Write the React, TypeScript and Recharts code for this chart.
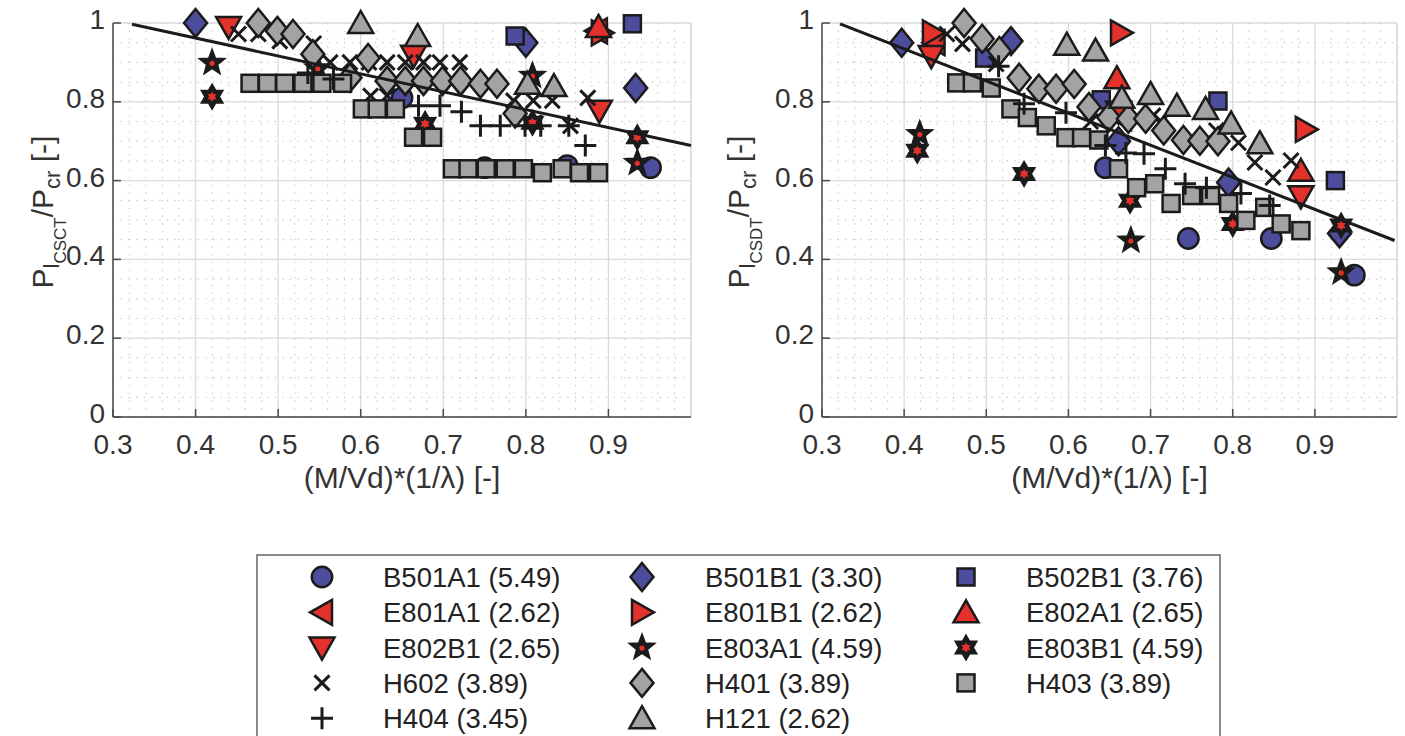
import React from "react";
import { ScatterChart, Scatter, XAxis, YAxis, CartesianGrid, ReferenceLine } from "recharts";

type XY = [number, number];

// axis ticks
const xTicks = [0.3, 0.4, 0.5, 0.6, 0.7, 0.8, 0.9];
const yTicks = [0, 0.2, 0.4, 0.6, 0.8, 1];
const xMinor = Array.from({ length: 35 }, (_, i) => +(0.32 + i * 0.02).toFixed(2)).filter((v) => Math.round(v * 100) % 10 !== 0);
const yMinor = Array.from({ length: 19 }, (_, i) => +(0.05 + i * 0.05).toFixed(2)).filter((v) => Math.round(v * 100) % 20 !== 0);

// series names + legend labels
const seriesKeys = ["B501A1", "B501B1", "B502B1", "E801A1", "E801B1", "E802A1", "E802B1", "E803A1", "E803B1", "H602", "H401", "H403", "H404", "H121"];
const legendLabels = [
  "B501A1 (5.49)", "B501B1 (3.30)", "B502B1 (3.76)",
  "E801A1 (2.62)", "E801B1 (2.62)", "E802A1 (2.65)",
  "E802B1 (2.65)", "E803A1 (4.59)", "E803B1 (4.59)",
  "H602 (3.89)", "H401 (3.89)", "H403 (3.89)",
  "H404 (3.45)", "H121 (2.62)",
];

// ---- left panel: P_l,CSCT / P_cr
const csctB501A1: XY[] = [[0.65, 0.81], [0.75, 0.633], [0.85, 0.638], [0.951, 0.633]];
const csctB501B1: XY[] = [[0.4, 1.0], [0.8, 0.95], [0.933, 0.835]];
const csctB502B1: XY[] = [[0.787, 0.967], [0.929, 0.998]];
const csctE801A1: XY[] = [[0.886, 0.98]];
const csctE801B1: XY[] = [[0.892, 0.975]];
const csctE802A1: XY[] = [[0.888, 0.99]];
const csctE802B1: XY[] = [[0.44, 0.99], [0.664, 0.917], [0.889, 0.777]];
const csctE803A1: XY[] = [[0.42, 0.899], [0.548, 0.885], [0.808, 0.866], [0.935, 0.645]];
const csctE803B1: XY[] = [[0.42, 0.813], [0.678, 0.744], [0.808, 0.747], [0.935, 0.71]];
const csctH602: XY[] = [
  [0.452, 0.972], [0.476, 0.972], [0.502, 0.954], [0.543, 0.948], [0.563, 0.9], [0.587, 0.9], [0.61, 0.9],
  [0.632, 0.9], [0.654, 0.9], [0.676, 0.9], [0.696, 0.9], [0.72, 0.9], [0.612, 0.815], [0.632, 0.815],
  [0.785, 0.803], [0.809, 0.803], [0.832, 0.803], [0.854, 0.739], [0.875, 0.81],
];
const csctH401: XY[] = [
  [0.476, 1.0], [0.499, 0.98], [0.518, 0.972], [0.542, 0.921], [0.587, 0.861], [0.609, 0.911], [0.632, 0.853],
  [0.654, 0.853], [0.676, 0.853], [0.699, 0.853], [0.721, 0.853], [0.745, 0.846], [0.765, 0.846], [0.787, 0.77],
];
const csctH403: XY[] = [
  [0.466, 0.847], [0.487, 0.847], [0.508, 0.847], [0.53, 0.847], [0.553, 0.847], [0.578, 0.847], [0.602, 0.782],
  [0.62, 0.782], [0.642, 0.782], [0.664, 0.71], [0.687, 0.71], [0.711, 0.63], [0.73, 0.63], [0.752, 0.63],
  [0.775, 0.63], [0.797, 0.63], [0.82, 0.62], [0.844, 0.63], [0.865, 0.62], [0.888, 0.62],
];
const csctH404: XY[] = [
  [0.536, 0.873], [0.567, 0.858], [0.67, 0.79], [0.696, 0.79], [0.722, 0.775], [0.745, 0.739], [0.769, 0.739],
  [0.799, 0.739], [0.818, 0.739], [0.852, 0.739], [0.872, 0.689],
];
const csctH121: XY[] = [[0.6, 1.0], [0.669, 0.967], [0.802, 0.846], [0.834, 0.84]];
const csctFit: XY[] = [[0.323, 0.997], [1.0, 0.689]];

// ---- right panel: P_l,CSDT / P_cr
const csdtB501A1: XY[] = [[0.645, 0.633], [0.746, 0.453], [0.847, 0.453], [0.948, 0.36]];
const csdtB501B1: XY[] = [[0.397, 0.95], [0.53, 0.954], [0.661, 0.7], [0.795, 0.595], [0.93, 0.466]];
const csdtB502B1: XY[] = [[0.498, 0.911], [0.64, 0.805], [0.782, 0.802], [0.925, 0.6]];
const csdtE801A1: XY[] = [[0.437, 0.95], [0.664, 0.76]];
const csdtE801B1: XY[] = [[0.435, 0.975], [0.664, 0.975], [0.889, 0.73]];
const csdtE802A1: XY[] = [[0.659, 0.86], [0.883, 0.625]];
const csdtE802B1: XY[] = [[0.433, 0.916], [0.661, 0.775], [0.883, 0.56]];
const csdtE803A1: XY[] = [[0.419, 0.718], [0.676, 0.448], [0.932, 0.367]];
const csdtE803B1: XY[] = [[0.416, 0.676], [0.546, 0.617], [0.675, 0.549], [0.8, 0.49], [0.932, 0.486]];
const csdtH602: XY[] = [
  [0.452, 0.972], [0.471, 0.947], [0.512, 0.896], [0.627, 0.75], [0.703, 0.765], [0.713, 0.75], [0.78, 0.727],
  [0.807, 0.696], [0.827, 0.646], [0.849, 0.608], [0.871, 0.651],
];
const csdtH401: XY[] = [
  [0.473, 1.0], [0.495, 0.96], [0.516, 0.929], [0.54, 0.861], [0.564, 0.833], [0.585, 0.833], [0.607, 0.845],
  [0.625, 0.787], [0.649, 0.76], [0.673, 0.757], [0.694, 0.757], [0.716, 0.727], [0.74, 0.703], [0.76, 0.701],
  [0.782, 0.7],
];
const csdtH403: XY[] = [
  [0.464, 0.848], [0.483, 0.848], [0.506, 0.835], [0.53, 0.782], [0.55, 0.76], [0.573, 0.739], [0.597, 0.709],
  [0.616, 0.709], [0.637, 0.703], [0.661, 0.63], [0.683, 0.582], [0.705, 0.592], [0.725, 0.542], [0.75, 0.562],
  [0.773, 0.562], [0.795, 0.542], [0.816, 0.499], [0.839, 0.532], [0.859, 0.49], [0.883, 0.473],
];
const csdtH404: XY[] = [
  [0.515, 0.89], [0.546, 0.795], [0.597, 0.772], [0.645, 0.689], [0.67, 0.67], [0.692, 0.668], [0.718, 0.63],
  [0.742, 0.592], [0.768, 0.582], [0.81, 0.567], [0.845, 0.537],
];
const csdtH121: XY[] = [[0.598, 0.945], [0.633, 0.93], [0.665, 0.81], [0.7, 0.82], [0.732, 0.79], [0.767, 0.782], [0.798, 0.745], [0.833, 0.695]];
const csdtFit: XY[] = [[0.322, 0.998], [0.997, 0.448]];

const csctSeries = [csctB501A1, csctB501B1, csctB502B1, csctE801A1, csctE801B1, csctE802A1, csctE802B1, csctE803A1, csctE803B1, csctH602, csctH401, csctH403, csctH404, csctH121];
const csdtSeries = [csdtB501A1, csdtB501B1, csdtB502B1, csdtE801A1, csdtE801B1, csdtE802A1, csdtE802B1, csdtE803A1, csdtE803B1, csdtH602, csdtH401, csdtH403, csdtH404, csdtH121];

const INK = "#1b1b1b";
const BLUE = "#4d4d9e";
const RED = "#e4312b";
const GRAY = "#a3a3a3";
const AXIS = "#4a4a4a";
const FONT = '"Liberation Sans", Arial, Helvetica, sans-serif';

type Kind = "circle" | "diamond" | "square" | "triL" | "triR" | "triU" | "triD" | "star5" | "star6" | "cross" | "plus";
const markerStyle: Record<string, { kind: Kind; fill: string }> = {
  B501A1: { kind: "circle", fill: BLUE },
  B501B1: { kind: "diamond", fill: BLUE },
  B502B1: { kind: "square", fill: BLUE },
  E801A1: { kind: "triL", fill: RED },
  E801B1: { kind: "triR", fill: RED },
  E802A1: { kind: "triU", fill: RED },
  E802B1: { kind: "triD", fill: RED },
  E803A1: { kind: "star5", fill: RED },
  E803B1: { kind: "star6", fill: RED },
  H602: { kind: "cross", fill: INK },
  H401: { kind: "diamond", fill: GRAY },
  H403: { kind: "square", fill: GRAY },
  H404: { kind: "plus", fill: INK },
  H121: { kind: "triU", fill: GRAY },
};

const toPts = (d: XY[]) => d.map(([x, y]) => ({ x, y }));

function starPts(cx: number, cy: number, n: number, ro: number, ri: number) {
  const out: string[] = [];
  for (let i = 0; i < 2 * n; i++) {
    const r = i % 2 === 0 ? ro : ri;
    const a = -Math.PI / 2 + (i * Math.PI) / n;
    out.push(`${cx + r * Math.cos(a)},${cy + r * Math.sin(a)}`);
  }
  return out.join(" ");
}

function Marker({ kind, fill, cx, cy, s = 1 }: { kind: Kind; fill: string; cx: number; cy: number; s?: number }) {
  const sw = 2.5;
  const common = { fill, stroke: INK, strokeWidth: sw, strokeLinejoin: "miter" as const };
  switch (kind) {
    case "circle":
      return <circle cx={cx} cy={cy} r={10.2 * s} {...common} />;
    case "diamond":
      return <polygon points={`${cx},${cy - 14 * s} ${cx + 11.5 * s},${cy} ${cx},${cy + 14 * s} ${cx - 11.5 * s},${cy}`} {...common} />;
    case "square":
      return <rect x={cx - 8.5 * s} y={cy - 8.5 * s} width={17 * s} height={17 * s} {...common} />;
    case "triU":
      return <polygon points={`${cx},${cy - 12 * s} ${cx + 12.5 * s},${cy + 10 * s} ${cx - 12.5 * s},${cy + 10 * s}`} {...common} />;
    case "triD":
      return <polygon points={`${cx},${cy + 12 * s} ${cx + 12.5 * s},${cy - 10 * s} ${cx - 12.5 * s},${cy - 10 * s}`} {...common} />;
    case "triR":
      return <polygon points={`${cx + 12 * s},${cy} ${cx - 10 * s},${cy - 12.5 * s} ${cx - 10 * s},${cy + 12.5 * s}`} {...common} />;
    case "triL":
      return <polygon points={`${cx - 12 * s},${cy} ${cx + 10 * s},${cy - 12.5 * s} ${cx + 10 * s},${cy + 12.5 * s}`} {...common} />;
    case "star5":
      return (
        <g>
          <polygon points={starPts(cx, cy, 5, 13.5 * s, 5.7 * s)} fill={INK} stroke={INK} strokeWidth={1.5} />
          <circle cx={cx} cy={cy + 0.5} r={2.6 * s} fill={RED} />
        </g>
      );
    case "star6":
      return (
        <g>
          <polygon points={starPts(cx, cy, 6, 12.5 * s, 7.2 * s)} fill={INK} stroke={INK} strokeWidth={1.5} />
          <polygon points={starPts(cx, cy, 6, 5 * s, 3 * s)} fill={RED} />
        </g>
      );
    case "cross":
      return <path d={`M${cx - 7.5 * s},${cy - 7.5 * s}L${cx + 7.5 * s},${cy + 7.5 * s}M${cx + 7.5 * s},${cy - 7.5 * s}L${cx - 7.5 * s},${cy + 7.5 * s}`} stroke={INK} strokeWidth={3} />;
    case "plus":
      return <path d={`M${cx - 11 * s},${cy}L${cx + 11 * s},${cy}M${cx},${cy - 11 * s}L${cx},${cy + 11 * s}`} stroke={INK} strokeWidth={3} />;
  }
  return null;
}

const XTick = (p: any) => {
  const { x, y, payload } = p;
  return (
    <g>
      <line x1={x} x2={x} y1={y} y2={y - 8} stroke={AXIS} strokeWidth={1.5} />
      <text x={x} y={y + 37} textAnchor="middle" fontSize={28} fill="#333" fontFamily={FONT}>
        {String(payload.value)}
      </text>
    </g>
  );
};

const YTick = (p: any) => {
  const { x, y, payload } = p;
  return (
    <g>
      <line x1={x} x2={x + 8} y1={y} y2={y} stroke={AXIS} strokeWidth={1.5} />
      <text x={x - 8} y={y + 6} textAnchor="end" fontSize={28} fill="#333" fontFamily={FONT}>
        {String(payload.value)}
      </text>
    </g>
  );
};

function XTitle({ viewBox }: any) {
  const { x, y, width } = viewBox;
  return (
    <text x={x + width / 2} y={y + 71} textAnchor="middle" fontSize={30} fill="#333" fontFamily={FONT}>
      (M/Vd)*(1/λ) [-]
    </text>
  );
}

function YTitle({ viewBox, sub, bx }: any) {
  const { y, height } = viewBox;
  const cy = y + height / 2 - 8;
  return (
    <text transform={`translate(${bx},${cy}) rotate(-90)`} textAnchor="middle" fontSize={30} fill="#333" fontFamily={FONT}>
      P<tspan dy={6} fontSize={22}>l</tspan>
      <tspan dy={7} fontSize={17}>{sub}</tspan>
      <tspan dy={-13} fontSize={30}>/P</tspan>
      <tspan dy={7} fontSize={22}>cr</tspan>
      <tspan dy={-7} fontSize={30}> [-]</tspan>
    </text>
  );
}

function Panel({ left, width, rightMargin, series, fit, sub, titleX }: { left: number; width: number; rightMargin: number; series: XY[][]; fit: XY[]; sub: string; titleX: number }) {
  return (
    <div style={{ position: "absolute", left, top: 0 }}>
      <ScatterChart width={width} height={500} margin={{ top: 23, right: rightMargin, bottom: 0, left: 0 }}>
        <CartesianGrid stroke="#dadada" strokeWidth={1.3} />
        {xMinor.map((v) => (
          <ReferenceLine key={"mx" + v} x={v} stroke="#b9b9b9" strokeWidth={1} strokeDasharray="1.2 6.5" />
        ))}
        {yMinor.map((v) => (
          <ReferenceLine key={"my" + v} y={v} stroke="#b9b9b9" strokeWidth={1} strokeDasharray="1.2 6.5" />
        ))}
        <ReferenceLine x={1} stroke="#dadada" strokeWidth={1.3} />
        <XAxis
          dataKey="x"
          type="number"
          domain={[0.3, 1]}
          ticks={xTicks}
          interval={0}
          height={83}
          tickSize={0}
          tickMargin={0}
          tickLine={false}
          tick={<XTick />}
          axisLine={{ stroke: AXIS, strokeWidth: 1.5 }}
          label={{ content: (p: any) => <XTitle viewBox={p.viewBox} /> }}
        />
        <YAxis
          dataKey="y"
          type="number"
          domain={[0, 1]}
          ticks={yTicks}
          interval={0}
          width={113}
          tickSize={0}
          tickMargin={0}
          tickLine={false}
          tick={<YTick />}
          axisLine={{ stroke: AXIS, strokeWidth: 1.5 }}
          label={{ content: (p: any) => <YTitle viewBox={p.viewBox} sub={sub} bx={titleX} /> }}
        />
        {series.map((d, i) => {
          const st = markerStyle[seriesKeys[i]];
          return (
            <Scatter
              key={seriesKeys[i]}
              name={seriesKeys[i]}
              data={toPts(d)}
              isAnimationActive={false}
              shape={(p: any) => <Marker kind={st.kind} fill={st.fill} cx={p.cx} cy={p.cy} />}
            />
          );
        })}
        <Scatter
          name="fit"
          data={toPts(fit)}
          isAnimationActive={false}
          line={{ stroke: INK, strokeWidth: 3 }}
          shape={() => <g />}
        />
      </ScatterChart>
    </div>
  );
}

function LegendBox() {
  const markerX = [322, 642, 966];
  const textX = [383, 705, 1026];
  return (
    <svg width={1405} height={736} style={{ position: "absolute", left: 0, top: 0, pointerEvents: "none" }}>
      <rect x={257} y={555} width={963} height={230} fill="#fff" stroke="#666" strokeWidth={1.5} />
      {seriesKeys.map((k, i) => {
        const row = Math.floor(i / 3);
        const col = i % 3;
        const cy = 577 + row * 35.3;
        const st = markerStyle[k];
        return (
          <g key={k}>
            <Marker kind={st.kind} fill={st.fill} cx={markerX[col]} cy={cy} />
            <text x={textX[col]} y={cy + 10} fontSize={27.5} fill="#222" fontFamily={FONT}>
              {legendLabels[i]}
            </text>
          </g>
        );
      })}
    </svg>
  );
}

export default function App() {
  return (
    <div style={{ position: "absolute", left: 0, top: 0, width: 1405, height: 736, background: "#fff", overflow: "hidden", fontFamily: FONT }}>
      <Panel left={0} width={710} rightMargin={19} series={csctSeries} fit={csctFit} sub="CSCT" titleX={53} />
      <Panel left={709} width={696} rightMargin={8} series={csdtSeries} fit={csdtFit} sub="CSDT" titleX={40} />
      <LegendBox />
    </div>
  );
}
